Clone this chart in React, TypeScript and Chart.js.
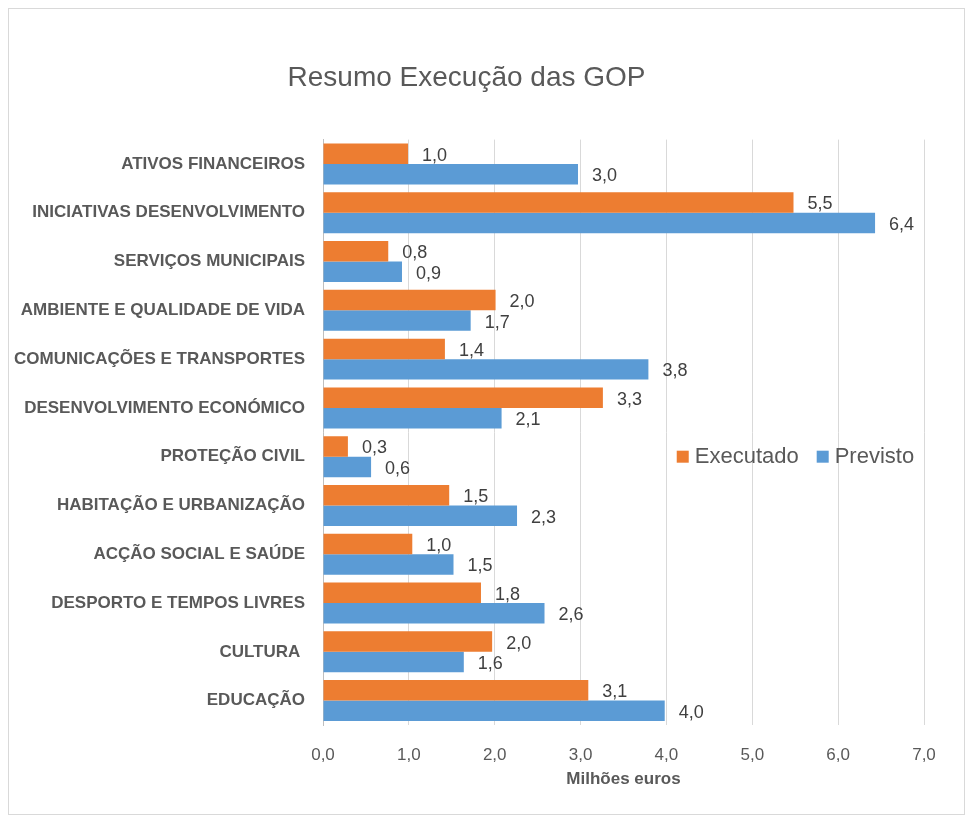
import React, { useEffect, useRef } from "react";
import { Chart, registerables } from "chart.js";

Chart.register(...registerables);

const categories = [
  "ATIVOS FINANCEIROS",
  "INICIATIVAS DESENVOLVIMENTO",
  "SERVIÇOS MUNICIPAIS",
  "AMBIENTE E QUALIDADE DE VIDA",
  "COMUNICAÇÕES E TRANSPORTES",
  "DESENVOLVIMENTO ECONÓMICO",
  "PROTEÇÃO CIVIL",
  "HABITAÇÃO E URBANIZAÇÃO",
  "ACÇÃO SOCIAL E SAÚDE",
  "DESPORTO E TEMPOS LIVRES",
  "CULTURA ",
  "EDUCAÇÃO",
];
const executado = [0.99, 5.48, 0.76, 2.01, 1.42, 3.26, 0.29, 1.47, 1.04, 1.84, 1.97, 3.09];
const previsto = [2.97, 6.43, 0.92, 1.72, 3.79, 2.08, 0.56, 2.26, 1.52, 2.58, 1.64, 3.98];
const seriesNames = ["Executado", "Previsto"];
const seriesColors = ["#ED7D31", "#5B9BD5"];

const FONT = "'Liberation Sans', Arial, sans-serif";
const fmt = (v: number) => v.toFixed(1).replace(".", ",");

const dataLabelPlugin = {
  id: "dataLabels",
  afterDatasetsDraw(chart: any) {
    const ctx = chart.ctx;
    ctx.save();
    ctx.font = `18px ${FONT}`;
    ctx.fillStyle = "#404040";
    ctx.textAlign = "left";
    ctx.textBaseline = "middle";
    chart.data.datasets.forEach((ds: any, i: number) => {
      const meta = chart.getDatasetMeta(i);
      meta.data.forEach((el: any, j: number) => {
        ctx.fillText(fmt(ds.data[j]), el.x + 14, el.y + 2);
      });
    });
    ctx.restore();
  },
};

const legendPlugin = {
  id: "customLegend",
  afterDraw(chart: any) {
    const ctx = chart.ctx;
    const xs = chart.scales.x;
    const ys = chart.scales.y;
    const y = ys.getPixelForValue(6);
    let x = xs.getPixelForValue(4.12);
    ctx.save();
    ctx.font = `22px ${FONT}`;
    ctx.textBaseline = "middle";
    ctx.textAlign = "left";
    seriesNames.forEach((name, i) => {
      ctx.fillStyle = seriesColors[i];
      ctx.fillRect(x, y - 6, 12, 12);
      ctx.fillStyle = "#595959";
      ctx.fillText(name, x + 18, y);
      x += 18 + ctx.measureText(name).width + 18;
    });
    ctx.restore();
  },
};

export default function App() {
  const ref = useRef<HTMLCanvasElement | null>(null);
  useEffect(() => {
    if (!ref.current) return;
    const chart = new Chart(ref.current, {
      type: "bar",
      data: {
        labels: categories,
        datasets: [
          { label: seriesNames[0], data: executado, backgroundColor: seriesColors[0], categoryPercentage: 0.84, barPercentage: 1 },
          { label: seriesNames[1], data: previsto, backgroundColor: seriesColors[1], categoryPercentage: 0.84, barPercentage: 1 },
        ],
      },
      options: {
        indexAxis: "y",
        animation: false,
        responsive: true,
        maintainAspectRatio: false,
        layout: { padding: { top: 0, bottom: 21, left: 0, right: 40 } },
        plugins: {
          legend: { display: false },
          tooltip: { enabled: false },
          title: {
            display: true,
            text: "Resumo Execução das GOP",
            color: "#595959",
            font: { family: FONT, size: 28, weight: "normal" },
            padding: { top: 52, bottom: 45 },
          },
        },
        scales: {
          x: {
            min: 0,
            max: 7,
            ticks: {
              stepSize: 1,
              color: "#595959",
              font: { family: FONT, size: 17 },
              padding: 20,
              callback: (v: any) => fmt(Number(v)),
            },
            grid: { color: "#d9d9d9", drawTicks: false },
            border: { display: false },
            title: {
              display: true,
              text: "Milhões euros",
              color: "#595959",
              font: { family: FONT, size: 17, weight: "bold" },
              padding: { top: 3, bottom: 3 },
            },
            afterFit: (s: any) => {
              s.height = 68;
            },
          },
          y: {
            ticks: {
              color: "#595959",
              font: { family: FONT, size: 17, weight: "bold" },
              padding: 18,
            },
            grid: { display: false, drawTicks: false },
            border: { display: true, color: "#bfbfbf" },
            afterFit: (s: any) => {
              s.width = 314;
            },
          },
        },
      },
      plugins: [dataLabelPlugin, legendPlugin],
    } as any);
    return () => chart.destroy();
  }, []);
  return (
    <div style={{ width: 955, height: 805, border: "1px solid #d9d9d9", position: "relative" }}>
      <canvas ref={ref} />
    </div>
  );
}
